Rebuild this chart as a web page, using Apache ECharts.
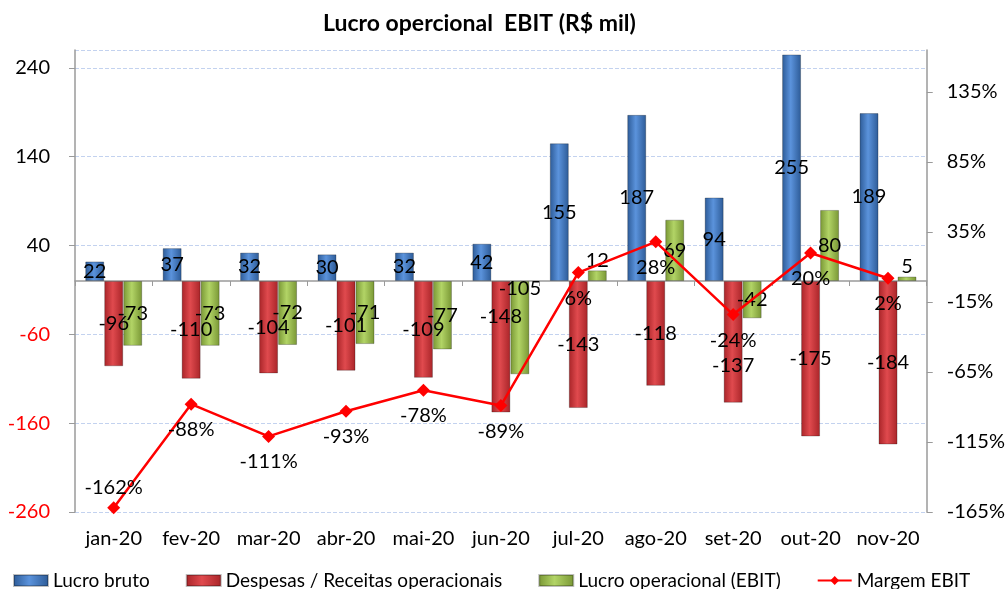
<!DOCTYPE html>
<html>
<head>
<meta charset="utf-8">
<script src="https://cdn.jsdelivr.net/npm/echarts@6/dist/echarts.min.js"></script>
<style>
  html, body { margin: 0; padding: 0; background: #fff; }
  #main { width: 1008px; height: 589px; }
</style>
</head>
<body>
<div id="main"></div>
<script>
'use strict';

// dados do grafico
const meses = ['jan-20', 'fev-20', 'mar-20', 'abr-20', 'mai-20', 'jun-20', 'jul-20', 'ago-20', 'set-20', 'out-20', 'nov-20'];
const lucroBruto = [22, 37, 32, 30, 32, 42, 155, 187, 94, 255, 189];
const despesas = [-96, -110, -104, -101, -109, -148, -143, -118, -137, -175, -184];
const ebit = [-73, -73, -72, -71, -77, -105, 12, 69, -42, 80, 5];
const margem = [-162, -88, -111, -93, -78, -89, 6, 28, -24, 20, 2];

// rotulos deslocados a mao no original (indice -> deslocamento vertical)
const ajusteDespesas = {5: -30, 8: 24};
const ajusteEbit = {5: -39};

const FONT = 'Lato, "Open Sans", sans-serif';

function grad(edge, mid) {
  return new echarts.graphic.LinearGradient(0, 0, 1, 0, [
    {offset: 0, color: edge},
    {offset: 0.45, color: mid},
    {offset: 1, color: edge}
  ]);
}

function barData(arr, ajuste) {
  return arr.map((v, i) => {
    if (Math.abs(v) < 20) return {value: v, label: {position: 'top', distance: 0}};
    if (ajuste && ajuste[i]) return {value: v, label: {offset: [0, ajuste[i]]}};
    return v;
  });
}

function barSeries(name, arr, ajuste, edge, mid) {
  return {
    name: name,
    type: 'bar',
    data: barData(arr, ajuste),
    barWidth: 19,
    barGap: '0%',
    itemStyle: {
      color: grad(edge, mid),
      borderColor: 'rgba(0,0,0,0.25)',
      borderWidth: 1
    },
    label: {
      show: true,
      position: 'inside',
      color: '#000',
      fontFamily: FONT,
      fontSize: 20
    }
  };
}

const chart = echarts.init(document.getElementById('main'));
chart.setOption({
  animation: false,
  backgroundColor: '#fff',
  title: {
    text: 'Lucro opercional  EBIT (R$ mil)',
    left: 318,
    top: 7,
    textStyle: {fontFamily: FONT, fontSize: 23, fontWeight: 'bold', color: '#000'}
  },
  grid: {left: 75, right: 76, top: 50, bottom: 77},
  legend: {
    left: 8,
    top: 566,
    itemGap: 36,
    itemWidth: 34,
    itemHeight: 11,
    textStyle: {fontFamily: FONT, fontSize: 19, color: '#000'},
    data: [
      {name: 'Lucro bruto', icon: 'rect'},
      {name: 'Despesas / Receitas operacionais', icon: 'rect'},
      {name: 'Lucro operacional (EBIT)', icon: 'rect'},
      {name: 'Margem EBIT'}
    ]
  },
  xAxis: [{
    type: 'category',
    data: meses,
    position: 'bottom',
    axisLine: {show: false, onZero: false},
    axisTick: {show: false},
    axisLabel: {interval: 0, fontFamily: FONT, fontSize: 20, color: '#000', margin: 17}
  }, {
    type: 'category',
    data: meses,
    position: 'bottom',
    axisLine: {show: true, onZero: true, lineStyle: {color: '#9a9a9a', width: 1.5}},
    axisTick: {show: true, length: 5, lineStyle: {color: '#9a9a9a'}},
    axisLabel: {show: false}
  }],
  yAxis: [{
    type: 'value',
    position: 'left',
    min: -260,
    max: 260,
    interval: 100,
    axisLine: {show: true, lineStyle: {color: '#9a9a9a', width: 1.5}},
    axisTick: {show: true, length: 6, lineStyle: {color: '#9a9a9a'}},
    axisLabel: {
      showMaxLabel: false,
      fontFamily: FONT,
      fontSize: 20,
      margin: 25,
      color: v => v < 0 ? '#ff0000' : '#000'
    },
    splitLine: {show: true, lineStyle: {color: '#c3d2ef', type: 'dashed'}}
  }, {
    type: 'value',
    position: 'right',
    min: -165,
    max: 165,
    interval: 50,
    axisLine: {show: true, lineStyle: {color: '#9a9a9a', width: 1.5}},
    axisTick: {show: true, length: 6, lineStyle: {color: '#9a9a9a'}},
    axisLabel: {
      showMaxLabel: false,
      fontFamily: FONT,
      fontSize: 20,
      margin: 20,
      color: '#000',
      formatter: '{value}%'
    },
    splitLine: {show: false}
  }],
  series: [
    barSeries('Lucro bruto', lucroBruto, null, '#2c5a96', '#5b93dc'),
    barSeries('Despesas / Receitas operacionais', despesas, ajusteDespesas, '#a82428', '#e04a4e'),
    barSeries('Lucro operacional (EBIT)', ebit, ajusteEbit, '#789634', '#b2d466'),
    {
      name: 'Margem EBIT',
      type: 'line',
      yAxisIndex: 1,
      z: 5,
      data: margem.map(v => v < -150 ? {value: v, label: {position: 'top', distance: 4}} : v),
      symbol: 'diamond',
      symbolSize: 13,
      color: '#ff0000',
      lineStyle: {color: '#ff0000', width: 2.5},
      itemStyle: {color: '#ff0000'},
      label: {
        show: true,
        position: 'bottom',
        distance: 9,
        color: '#000',
        fontFamily: FONT,
        fontSize: 20,
        formatter: '{c}%'
      }
    }
  ]
});
</script>
</body>
</html>
